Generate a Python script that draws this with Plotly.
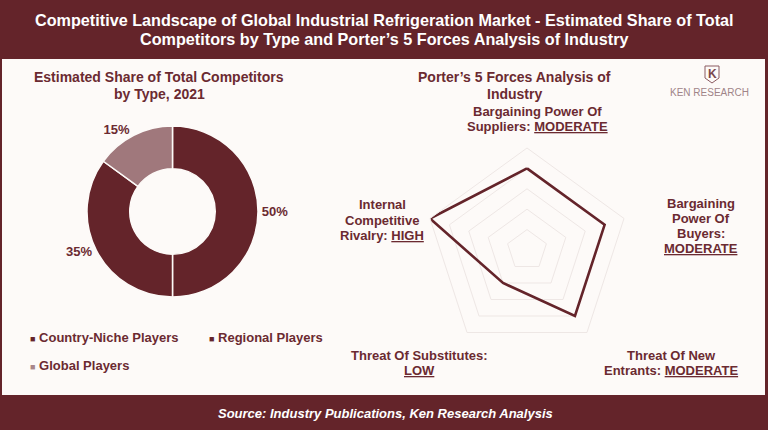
import plotly.graph_objects as go

# ---------------- data ----------------
competitor_types = ["Country-Niche Players", "Regional Players", "Global Players"]
competitor_share = [50, 35, 15]

forces = ["Bargaining Power Of Suppliers", "Bargaining Power Of Buyers",
          "Threat Of New Entrants", "Threat Of Substitutes",
          "Internal Competitive Rivalry"]
force_scores = [4, 4, 4, 2, 5]          # 0-5 scale
force_levels = ["MODERATE", "MODERATE", "MODERATE", "LOW", "HIGH"]

# ---------------- style ----------------
W, H = 768, 430
MAROON = "#64242a"
TEXT = "#6b2a31"
GLOBAL = "#a0787c"
BG = "#fdfaf8"
GRID = "#eee7e5"
FONT = "Liberation Sans, Arial, sans-serif"
slice_colors = [MAROON, MAROON, GLOBAL]


def px(x):
    return x / W


def py(y):
    return 1 - y / H


fig = go.Figure()

# donut
fig.add_trace(go.Pie(
    labels=competitor_types,
    values=competitor_share,
    hole=0.5,
    sort=False,
    direction="clockwise",
    rotation=0,
    marker=dict(colors=slice_colors, line=dict(color="#fdfaf8", width=1.5)),
    texttemplate="<b>%{value}%</b>",
    textposition="outside",
    textfont=dict(family=FONT, size=13, color=TEXT),
    domain=dict(x=[px(87), px(258)], y=[py(297), py(126)]),
    showlegend=False,
))

# radar
r_closed = force_scores + force_scores[:1]
theta_closed = forces + forces[:1]
fig.add_trace(go.Scatterpolar(
    r=r_closed,
    theta=theta_closed,
    mode="lines",
    line=dict(color=MAROON, width=2.6),
    showlegend=False,
))

fig.update_layout(
    width=W, height=H,
    margin=dict(l=0, r=0, t=0, b=0),
    paper_bgcolor=MAROON,
    plot_bgcolor=BG,
    font=dict(family=FONT, color=TEXT),
    polar=dict(
        domain=dict(x=[px(425), px(629)], y=[py(352), py(148)]),
        bgcolor="rgba(0,0,0,0)",
        gridshape="linear",
        radialaxis=dict(range=[0, 5], tickvals=[1, 2, 3, 4, 5], showticklabels=False,
                        showline=False, ticks="", gridcolor=GRID, gridwidth=1),
        angularaxis=dict(direction="clockwise", rotation=90, showticklabels=False,
                         ticks="", showgrid=False, showline=True, linecolor=GRID,
                         linewidth=1),
    ),
)

# background panel
fig.add_shape(type="rect", xref="paper", yref="paper", x0=px(2), x1=px(765),
              y0=py(395), y1=py(59), fillcolor=BG, line=dict(width=0), layer="below")

ann = []


def text_lines(x, y0, lines, size, color, step, bold=True, italic=False):
    for i, line in enumerate(lines):
        t = line
        if italic:
            t = f"<i>{t}</i>"
        if bold:
            t = f"<b>{t}</b>"
        ann.append(dict(x=px(x), y=py(y0 + i * step), text=t, showarrow=False,
                        xanchor="center", yanchor="middle",
                        font=dict(size=size, color=color, family=FONT)))


# header / footer
text_lines(384, 20, ["Competitive Landscape of Global Industrial Refrigeration Market - Estimated Share of Total",
                     "Competitors by Type and Porter’s 5 Forces Analysis of Industry"],
           16.2, "white", 19)
text_lines(385, 413, ["Source: Industry Publications, Ken Research Analysis"], 13, "white", 0, italic=True)

# sub titles
text_lines(159, 77, ["Estimated Share of Total Competitors", "by Type, 2021"], 14, TEXT, 17)
text_lines(514, 77, ["Porter’s 5 Forces Analysis of", "Industry"], 14, TEXT, 17)

# legend (built from data)
legend_pos = [(32, 337), (211, 337), (32, 365)]
legend_marker_colors = [MAROON, MAROON, "#a8868a"]
for name, col, (lx, ly) in zip(competitor_types, legend_marker_colors, legend_pos):
    ann.append(dict(x=px(lx - 4), y=py(ly), xanchor="left", yanchor="middle", showarrow=False,
                    text=f"<span style='color:{col};font-size:9px'>■</span> <b>{name}</b>",
                    font=dict(size=13, color=TEXT)))

# radar labels (one annotation per line)
label_specs = [
    (537, 111, ["Bargaining Power Of", "Suppliers: {L}"]),
    (701, 203, ["Bargaining", "Power Of", "Buyers:", "{L}"]),
    (671, 355, ["Threat Of New", "Entrants: {L}"]),
    (419, 355, ["Threat Of Substitutes:", "{L}"]),
    (382, 205, ["Internal", "Competitive", "Rivalry: {L}"]),
]
for (lx, ly, lines), level in zip(label_specs, force_levels):
    lines = [ln.replace("{L}", f"<u>{level}</u>") for ln in lines]
    text_lines(lx, ly, lines, 13, TEXT, 15)

# logo
ann.append(dict(x=px(712), y=py(74), text="<b>K</b>", showarrow=False,
                font=dict(size=12, color="#7a474d"), xanchor="center", yanchor="middle"))
ann.append(dict(x=px(709), y=py(92), text="KEN RESEARCH", showarrow=False,
                font=dict(size=10, color="#a08488"), xanchor="center", yanchor="middle"))
fig.add_shape(type="path", xref="paper", yref="paper",
              path=(f"M{px(705)},{py(66)} L{px(719)},{py(66)} L{px(719)},{py(78)} "
                    f"L{px(712)},{py(83)} L{px(705)},{py(78)} Z"),
              line=dict(color="#8a5a60", width=1))

fig.update_layout(annotations=ann)

fig.write_html("out.html")
